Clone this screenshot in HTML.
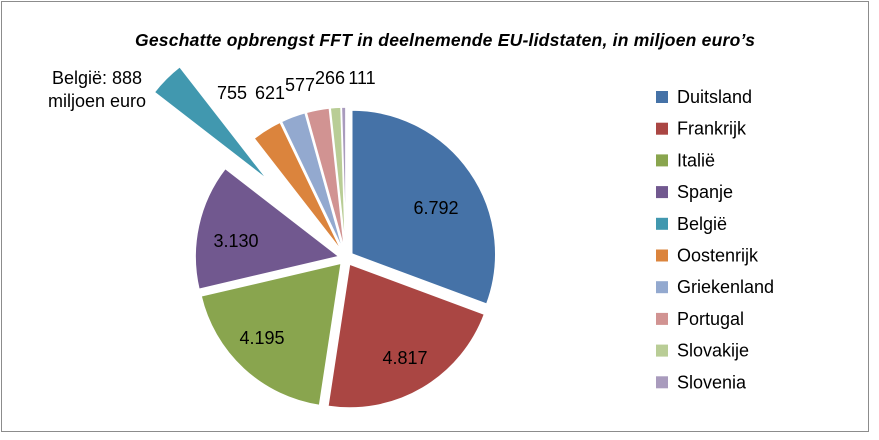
<!DOCTYPE html>
<html><head><meta charset="utf-8"><style>
body{margin:0;background:#fff;}
svg{display:block;font-family:"Liberation Sans",Calibri,sans-serif;}
</style></head><body>
<svg id="s" width="879" height="440" xmlns="http://www.w3.org/2000/svg">
<rect x="0" y="0" width="879" height="440" fill="#fff"/>
<rect x="1.5" y="1.5" width="867" height="430" fill="#fff" stroke="#8c8c8c" stroke-width="1"/>
<text x="445" y="46" text-anchor="middle" font-size="17.5" font-weight="bold" font-style="italic" textLength="620">Geschatte opbrengst FFT in deelnemende EU-lidstaten, in miljoen euro’s</text>
<g id="pie"></g>
<g font-size="18" fill="#000">
<text x="436" y="214" text-anchor="middle">6.792</text>
<text x="405" y="364" text-anchor="middle">4.817</text>
<text x="262" y="344" text-anchor="middle">4.195</text>
<text x="236" y="247" text-anchor="middle">3.130</text>
<text x="232" y="99" text-anchor="middle">755</text>
<text x="270" y="99" text-anchor="middle">621</text>
<text x="300" y="91" text-anchor="middle">577</text>
<text x="330" y="84" text-anchor="middle">266</text>
<text x="362" y="84" text-anchor="middle">111</text>
<text x="52" y="84">België:  888</text>
<text x="48" y="107">miljoen euro</text>
</g>
<g id="leg" font-size="18"></g>
</svg>
<script>
var d=[["Duitsland",6792,"#4572a7"],["Frankrijk",4817,"#aa4643"],["Italië",4195,"#89a54e"],["Spanje",3130,"#71588f"],["België",888,"#4198af"],["Oostenrijk",755,"#db843d"],["Griekenland",621,"#93a9cf"],["Portugal",577,"#d19392"],["Slovakije",266,"#b9cd96"],["Slovenia",111,"#a99bbd"]];
var tot=0;d.forEach(function(e){tot+=e[1];});
var cx=346,cy=258,r=144,a=-90,pie=document.getElementById("pie"),leg=document.getElementById("leg"),ns="http://www.w3.org/2000/svg";
d.forEach(function(e,i){
 var sw=e[1]/tot*360,b=a+sw,m=(a+b)/2*Math.PI/180,ex=(i==4)?110:7;
 var ox=cx+ex*Math.cos(m),oy=cy+ex*Math.sin(m);
 var a1=a*Math.PI/180,b1=b*Math.PI/180;
 var p=document.createElementNS(ns,"path");
 p.setAttribute("d","M"+ox+","+oy+"L"+(ox+r*Math.cos(a1))+","+(oy+r*Math.sin(a1))+"A"+r+","+r+" 0 "+(sw>180?1:0)+" 1 "+(ox+r*Math.cos(b1))+","+(oy+r*Math.sin(b1))+"Z");
 p.setAttribute("fill",e[2]);p.setAttribute("stroke","#fff");p.setAttribute("stroke-width","1.5");
 pie.appendChild(p);a=b;
 var y=97+i*31.7;
 var q=document.createElementNS(ns,"rect");q.setAttribute("x",656);q.setAttribute("y",y-6);q.setAttribute("width",12);q.setAttribute("height",12);q.setAttribute("fill",e[2]);leg.appendChild(q);
 var t=document.createElementNS(ns,"text");t.setAttribute("x",677);t.setAttribute("y",y+6);t.textContent=e[0];leg.appendChild(t);
});
</script>
</body></html>
